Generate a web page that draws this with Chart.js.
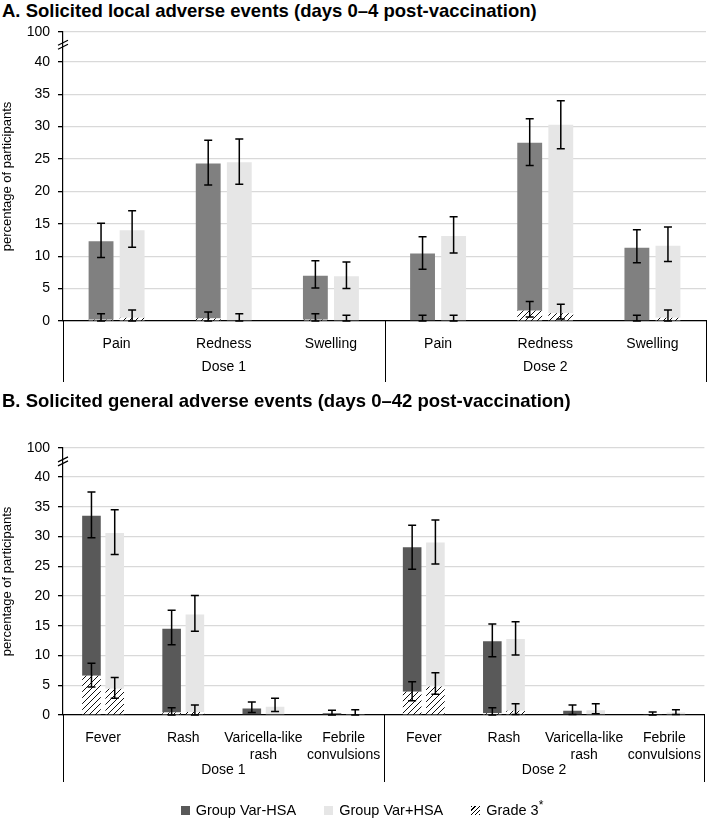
<!DOCTYPE html>
<html>
<head>
<meta charset="utf-8">
<script src="https://cdn.jsdelivr.net/npm/chart.js@4/dist/chart.umd.min.js"></script>
<style>
  body { margin: 0; background: #fff; font-family: "Liberation Sans", Arial, sans-serif; }
  #wrap { position: relative; width: 708px; height: 832px; overflow: hidden; }
  .ttl { position: absolute; left: 2px; font-weight: bold; font-size: 18.5px; color: #000; white-space: nowrap; }
  canvas { position: absolute; left: 0; }
  #legend { position: absolute; top: 798px; left: 8px; width: 708px; text-align: center; font-size: 14.5px; color: #000; }
  #legend span.item { margin: 0 12px; white-space: nowrap; }
  .sw { display: inline-block; width: 9px; height: 9px; margin-right: 6px; vertical-align: 0px; }
</style>
</head>
<body>
<div id="wrap">
  <div class="ttl" style="top:0px">A. Solicited local adverse events (days 0–4 post-vaccination)</div>
  <canvas id="chartA" width="708" height="392" style="top:0"></canvas>
  <div class="ttl" style="top:390px">B. Solicited general adverse events (days 0–42 post-vaccination)</div>
  <canvas id="chartB" width="708" height="402" style="top:390px"></canvas>
  <div id="legend">
    <span class="item"><span class="sw" style="background:#595959"></span>Group Var-HSA</span>
    <span class="item"><span class="sw" style="background:#e6e6e6"></span>Group Var+HSA</span>
    <span class="item"><span class="sw" style="background:repeating-linear-gradient(-45deg,#000 0 1px,#fff 1px 3px)"></span>Grade 3<sup>*</sup></span>
  </div>
</div>
<script>
// ---- data ----
const doseLabels = ["Dose 1", "Dose 2"];
const yTicks = [0, 5, 10, 15, 20, 25, 30, 35, 40];

// A. local events (days 0-4)
const localCats = ["Pain", "Redness", "Swelling", "Pain", "Redness", "Swelling"];
const localMinus = [12.3, 24.3, 7.0, 10.4, 27.5, 11.3];
const localMinusLo = [9.8, 21.0, 5.1, 8.0, 24.0, 9.0];
const localMinusHi = [15.1, 27.9, 9.3, 13.0, 31.2, 14.1];
const localPlus = [14.0, 24.5, 6.9, 13.1, 30.3, 11.6];
const localPlusLo = [11.4, 21.1, 5.0, 10.5, 26.6, 9.2];
const localPlusHi = [17.0, 28.1, 9.1, 16.1, 34.0, 14.5];
const localG3Minus = [0.2, 0.4, 0.2, 0.1, 1.6, 0.1];
const localG3MinusLo = [0, 0, 0, 0, 0.6, 0];
const localG3MinusHi = [1.1, 1.4, 1.1, 0.9, 3.0, 0.9];
const localG3Plus = [0.5, 0.1, 0.1, 0.1, 1.2, 0.5];
const localG3PlusLo = [0, 0, 0, 0, 0.3, 0];
const localG3PlusHi = [1.7, 1.1, 0.9, 0.9, 2.6, 1.7];

// B. general events (days 0-42)
const genCats = ["Fever", "Rash", ["Varicella-like", "rash"], ["Febrile", "convulsions"],
                 "Fever", "Rash", ["Varicella-like", "rash"], ["Febrile", "convulsions"]];
const genMinus = [33.5, 14.5, 1.1, 0.3, 28.2, 12.4, 0.7, 0.1];
const genMinusLo = [29.8, 11.8, 0.4, 0, 24.5, 9.8, 0.1, 0];
const genMinusHi = [37.5, 17.6, 2.2, 0.8, 31.9, 15.3, 1.7, 0.5];
const genPlus = [30.6, 16.9, 1.4, 0.1, 29.0, 12.8, 0.8, 0.4];
const genPlusLo = [27.0, 14.1, 0.6, 0, 25.4, 10.1, 0.2, 0.1];
const genPlusHi = [34.5, 20.1, 2.8, 0.9, 32.8, 15.7, 1.9, 0.9];
const genG3Minus = [6.6, 0.4, 0, 0, 3.9, 0.3, 0, 0];
const genG3MinusLo = [4.7, 0, 0, 0, 2.4, 0, 0, 0];
const genG3MinusHi = [8.7, 1.2, 0, 0, 5.6, 1.2, 0, 0];
const genG3Plus = [4.4, 0.5, 0, 0, 4.8, 0.7, 0, 0];
const genG3PlusLo = [2.8, 0, 0, 0, 3.5, 0.1, 0, 0];
const genG3PlusHi = [6.3, 1.7, 0, 0, 7.1, 1.9, 0, 0];

const FONT = "Liberation Sans";

// hatch pattern for grade 3
function hatch() {
    const c = document.createElement("canvas");
    c.width = 6; c.height = 6;
    const x = c.getContext("2d");
    x.fillStyle = "#fff";
    x.fillRect(0, 0, 6, 6);
    x.strokeStyle = "#111";
    x.lineWidth = 1;
    x.beginPath();
    x.moveTo(-1, 7); x.lineTo(7, -1);
    x.moveTo(-1, 1); x.lineTo(1, -1);
    x.moveTo(5, 7); x.lineTo(7, 5);
    x.stroke();
    return x.createPattern(c, "repeat");
}
const pattern = hatch();

// error bars, category box, dose labels, axis break
const extras = {
    id: "extras",
    afterDatasetsDraw(chart, args, opts) {
        const ctx = chart.ctx;
        const y = chart.scales.y;
        ctx.save();
        ctx.strokeStyle = "#000";
        ctx.lineWidth = 1.5;
        opts.bars.forEach(b => {
            const meta = chart.getDatasetMeta(b.ds);
            b.hi.forEach((hi, i) => {
                if (!hi) return;
                const x = meta.data[i].x;
                const y1 = y.getPixelForValue(b.lo[i]);
                const y2 = y.getPixelForValue(hi);
                ctx.beginPath();
                ctx.moveTo(x, y1); ctx.lineTo(x, y2);
                ctx.moveTo(x - 4, y1); ctx.lineTo(x + 4, y1);
                ctx.moveTo(x - 4, y2); ctx.lineTo(x + 4, y2);
                ctx.stroke();
            });
        });
        ctx.restore();
    },
    afterDraw(chart, args, opts) {
        const ctx = chart.ctx;
        const a = chart.chartArea;
        const xs = chart.scales.x;
        const half = opts.n / 2;
        const mid = xs.getPixelForValue(half - 0.5);
        ctx.save();
        ctx.strokeStyle = "#000";
        ctx.lineWidth = 1;
        ctx.beginPath();
        [a.left, mid, a.right].forEach(px => {
            const p = Math.round(px) + 0.5;
            ctx.moveTo(p, a.bottom);
            ctx.lineTo(p, a.bottom + opts.boxH);
        });
        ctx.stroke();
        ctx.fillStyle = "#000";
        ctx.font = "14px " + FONT;
        ctx.textAlign = "center";
        ctx.textBaseline = "middle";
        ctx.fillText(doseLabels[0], (a.left + mid) / 2, a.bottom + opts.doseY);
        ctx.fillText(doseLabels[1], (mid + a.right) / 2, a.bottom + opts.doseY);
        // axis break marks
        const yb = chart.scales.y.getPixelForValue(opts.breakAt);
        ctx.lineWidth = 1.2;
        ctx.beginPath();
        ctx.moveTo(a.left - 5, yb - 1); ctx.lineTo(a.left + 5, yb - 6);
        ctx.moveTo(a.left - 5, yb + 3); ctx.lineTo(a.left + 5, yb - 2);
        ctx.stroke();
        ctx.restore();
    }
};

function makeChart(id, cats, d, top, boxH, doseY, padTop) {
    const dark = d.dark;
    return new Chart(document.getElementById(id), {
        type: "bar",
        data: {
            labels: cats,
            datasets: [
                { label: "g3-", data: d.g3m, backgroundColor: pattern, stack: "a" },
                { label: "Group Var-HSA", data: d.m.map((v, i) => v - d.g3m[i]), backgroundColor: dark, stack: "a" },
                { label: "g3+", data: d.g3p, backgroundColor: pattern, stack: "b" },
                { label: "Group Var+HSA", data: d.p.map((v, i) => v - d.g3p[i]), backgroundColor: "#e6e6e6", stack: "b" }
            ]
        },
        options: {
            responsive: false,
            animation: false,
            categoryPercentage: 0.58,
            barPercentage: 0.8,
            layout: { padding: { top: padTop, left: 0, right: 2, bottom: 10 } },
            plugins: {
                legend: { display: false },
                tooltip: { enabled: false },
                extras: {
                    n: cats.length, boxH: boxH, doseY: doseY, breakAt: 42.4,
                    bars: [
                        { ds: 1, lo: d.mLo, hi: d.mHi },
                        { ds: 3, lo: d.pLo, hi: d.pHi },
                        { ds: 0, lo: d.g3mLo, hi: d.g3mHi },
                        { ds: 2, lo: d.g3pLo, hi: d.g3pHi }
                    ]
                }
            },
            scales: {
                x: {
                    stacked: true,
                    grid: { display: false },
                    border: { color: "#000", width: 1.2 },
                    ticks: { color: "#000", font: { family: FONT, size: 14 }, padding: 7, maxRotation: 0, autoSkip: false },
                    afterFit: s => { s.height = boxH; }
                },
                y: {
                    stacked: true,
                    min: 0,
                    max: top,
                    afterBuildTicks: s => { s.ticks = yTicks.concat([top]).map(v => ({ value: v })); },
                    grid: { color: "#d9d9d9", lineWidth: 1.3, tickColor: "#000", tickLength: 5 },
                    border: { color: "#000", width: 1.2 },
                    ticks: {
                        color: "#000", font: { family: FONT, size: 14 }, padding: 8,
                        callback: v => (v === top ? "100" : v)
                    },
                    title: { display: true, text: "percentage of participants", color: "#000", font: { family: FONT, size: 13 }, padding: 0 },
                    afterFit: s => { s.width = 63; }
                }
            }
        },
        plugins: [extras]
    });
}

makeChart("chartA", localCats, {
    dark: "#808080",
    m: localMinus, mLo: localMinusLo, mHi: localMinusHi,
    p: localPlus, pLo: localPlusLo, pHi: localPlusHi,
    g3m: localG3Minus, g3mLo: localG3MinusLo, g3mHi: localG3MinusHi,
    g3p: localG3Plus, g3pLo: localG3PlusLo, g3pHi: localG3PlusHi
}, 44.6, 61, 46, 32);

makeChart("chartB", genCats, {
    dark: "#595959",
    m: genMinus, mLo: genMinusLo, mHi: genMinusHi,
    p: genPlus, pLo: genPlusLo, pHi: genPlusHi,
    g3m: genG3Minus, g3mLo: genG3MinusLo, g3mHi: genG3MinusHi,
    g3p: genG3Plus, g3pLo: genG3PlusLo, g3pHi: genG3PlusHi
}, 44.9, 67, 55, 58);
</script>
</body>
</html>
